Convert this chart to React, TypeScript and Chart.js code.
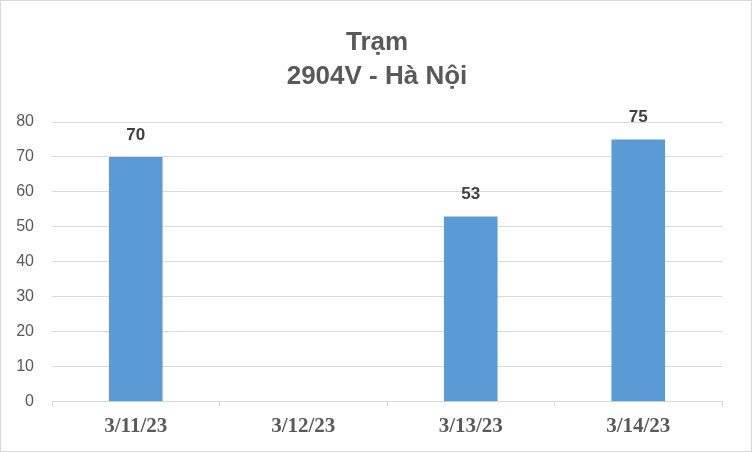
import React, { useEffect, useRef } from 'react';
import { Chart, registerables } from 'chart.js';

Chart.register(...registerables);

const titleLines = ['Trạm', '2904V - Hà Nội'];
const dates = ['3/11/23', '3/12/23', '3/13/23', '3/14/23'];
const values: (number | null)[] = [70, null, 53, 75];
const yTicks = [0, 10, 20, 30, 40, 50, 60, 70, 80];

// value labels above each bar
const valueLabels = {
    id: 'valueLabels',
    afterDatasetsDraw(chart: any) {
        const ctx = chart.ctx;
        const meta = chart.getDatasetMeta(0);
        ctx.save();
        ctx.font = 'bold 17px "Liberation Sans", sans-serif';
        ctx.fillStyle = '#404040';
        ctx.textAlign = 'center';
        ctx.textBaseline = 'middle';
        meta.data.forEach((bar: any, i: number) => {
            const v = values[i];
            if (v === null) return;
            ctx.fillText(String(v), bar.x, bar.y - 22);
        });
        ctx.restore();
    }
};

// title centred on the whole canvas (not just the padded layout box)
const centeredTitle = {
    id: 'centeredTitle',
    afterDraw(chart: any) {
        const ctx = chart.ctx;
        ctx.save();
        ctx.font = 'bold 26px "Liberation Sans", sans-serif';
        ctx.fillStyle = '#595959';
        ctx.textAlign = 'center';
        ctx.textBaseline = 'alphabetic';
        titleLines.forEach((line, i) => {
            ctx.fillText(line, chart.width / 2 + 1, 49 + i * 34);
        });
        ctx.restore();
    }
};

const App: React.FC = () => {
    const chartRef = useRef<HTMLCanvasElement>(null);
    const chartInstanceRef = useRef<Chart | null>(null);

    useEffect(() => {
        if (!chartRef.current) return;
        const ctx = chartRef.current.getContext('2d');
        if (!ctx) return;

        if (chartInstanceRef.current) {
            chartInstanceRef.current.destroy();
        }

        chartInstanceRef.current = new Chart(ctx, {
            type: 'bar',
            data: {
                labels: dates,
                datasets: [{
                    data: values,
                    backgroundColor: '#5B9BD5',
                    categoryPercentage: 1,
                    barPercentage: 0.32,
                }]
            },
            options: {
                responsive: true,
                maintainAspectRatio: false,
                animation: false,
                layout: {
                    padding: { left: 0, right: 29, top: 121, bottom: 5 }
                },
                plugins: {
                    legend: { display: false },
                    tooltip: { enabled: false },
                    title: { display: false }
                },
                scales: {
                    x: {
                        offset: true,
                        border: { color: '#d9d9d9', width: 1 },
                        grid: {
                            offset: true,
                            drawOnChartArea: false,
                            drawTicks: true,
                            tickLength: 5,
                            color: '#d9d9d9'
                        },
                        ticks: {
                            color: '#595959',
                            padding: 7,
                            font: { family: '"Liberation Serif", serif', size: 21, weight: 'bold' }
                        }
                    },
                    y: {
                        min: 0,
                        max: 80,
                        afterBuildTicks: (axis: any) => {
                            axis.ticks = yTicks.map(v => ({ value: v }));
                        },
                        afterFit: (axis: any) => {
                            axis.width = 51;
                        },
                        border: { display: false },
                        grid: {
                            color: '#d9d9d9',
                            drawTicks: false
                        },
                        ticks: {
                            color: '#595959',
                            padding: 18,
                            font: { family: '"Liberation Sans", sans-serif', size: 16 }
                        }
                    }
                }
            },
            plugins: [valueLabels, centeredTitle]
        });

        return () => {
            if (chartInstanceRef.current) {
                chartInstanceRef.current.destroy();
                chartInstanceRef.current = null;
            }
        };
    }, []);

    return (
        <div style={{ position: 'absolute', left: 0, top: 0, width: 752, height: 452, boxSizing: 'border-box', border: '1px solid #d9d9d9', background: '#fff' }}>
            <canvas ref={chartRef}></canvas>
        </div>
    );
};

export default App;
